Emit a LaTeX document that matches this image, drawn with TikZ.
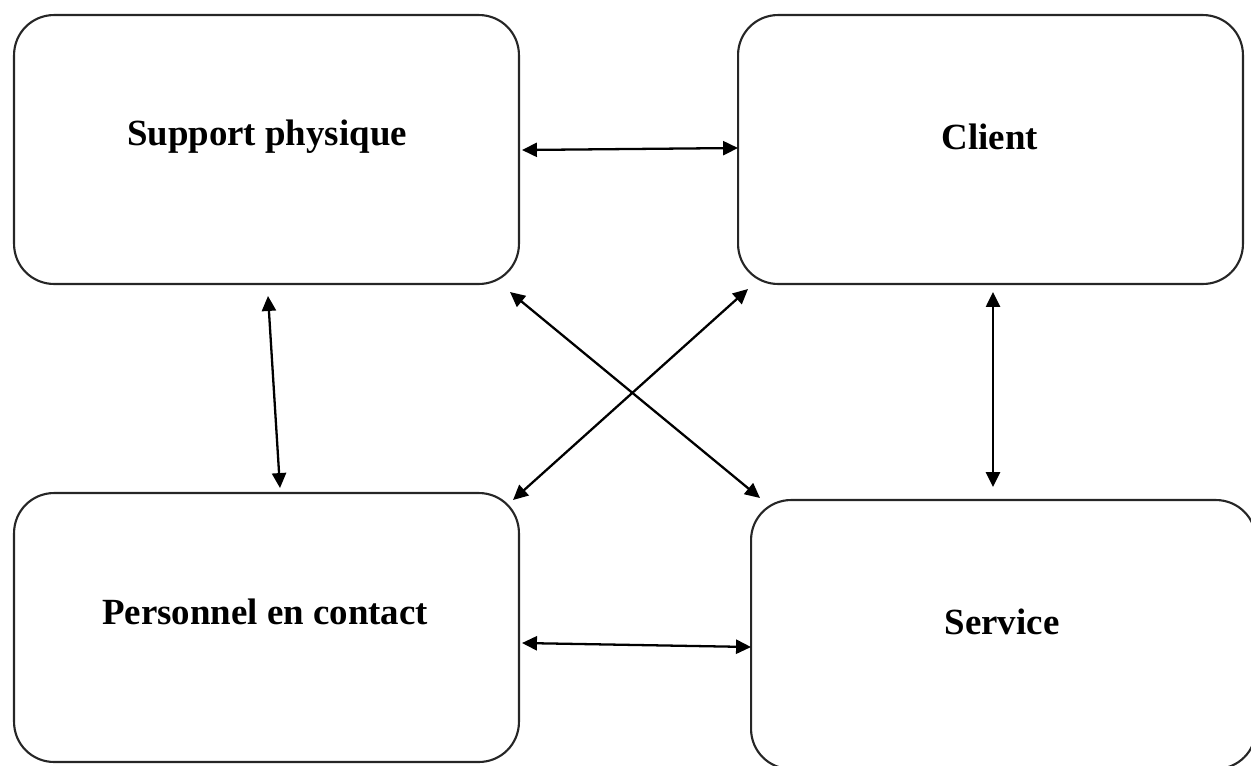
\documentclass[tikz,border=0pt]{standalone}
\usepackage{fontspec}
\setmainfont{Liberation Serif}
\usetikzlibrary{arrows.meta}
\begin{document}
\begin{tikzpicture}[x=0.02cm,y=-0.02cm,
  boxstyle/.style={draw=black!85,line width=1.2pt,rounded corners=0.8cm,minimum width=10.1cm,minimum height=5.38cm,inner sep=0pt,outer sep=0pt},
  labelstyle/.style={font=\bfseries\fontsize{21}{25}\selectfont,inner sep=0pt},
  link/.style={line width=1.3pt,{Triangle[length=8.5pt,width=8pt]}-{Triangle[length=8.5pt,width=8pt]}}]
\useasboundingbox (0,0) rectangle (1251,765);
\node[boxstyle] (sp) at (266.5,149.5) {};
\node[boxstyle] (cl) at (990.5,149.5) {};
\node[boxstyle] (pc) at (266.5,627.5) {};
\node[boxstyle] (sv) at (1003.5,634.5) {};
\node[labelstyle] (tsp) at (267,137) {Support physique};
\node[labelstyle] (tcl) at (990,137) {Client};
\node[labelstyle] (tpc) at (265,612) {Personnel en contact};
\node[labelstyle] (tsv) at (1002,622) {Service};
\coordinate (a1) at (522,150); \coordinate (a2) at (738,148);
\coordinate (b1) at (522,643); \coordinate (b2) at (751,647);
\coordinate (c1) at (268,296); \coordinate (c2) at (280,488);
\coordinate (d1) at (993,292); \coordinate (d2) at (993,487);
\coordinate (e1) at (510,292); \coordinate (e2) at (760,498);
\coordinate (f1) at (748,289); \coordinate (f2) at (513,500);
\draw[link] (a1) -- (a2);
\draw[link] (b1) -- (b2);
\draw[link] (c1) -- (c2);
\draw[link] (d1) -- (d2);
\draw[link] (e1) -- (e2);
\draw[link] (f1) -- (f2);
\end{tikzpicture}
\end{document}
